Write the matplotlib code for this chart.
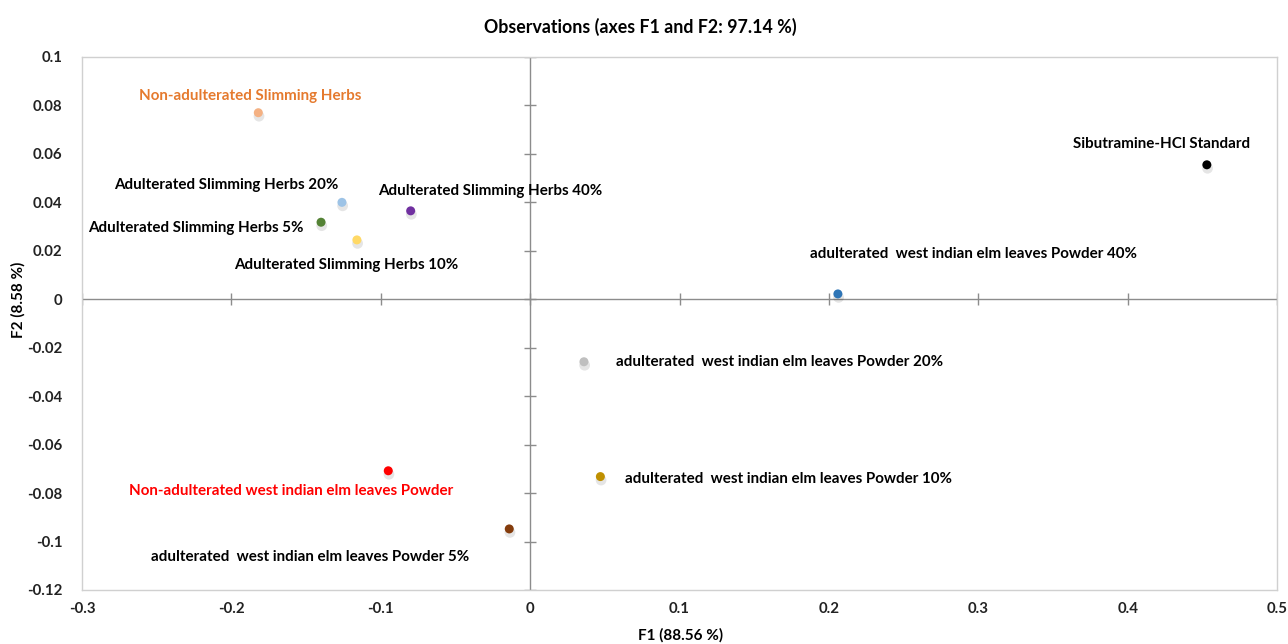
import matplotlib

matplotlib.use("Agg")
import matplotlib.pyplot as plt
import matplotlib.transforms as mtransforms

plt.rcParams["font.family"] = ["Lato", "DejaVu Sans"]

# observations on the F1/F2 plane
labels = [
  "Non-adulterated Slimming Herbs",
  "Sibutramine-HCl Standard",
  "Adulterated Slimming Herbs 20%",
  "Adulterated Slimming Herbs 40%",
  "Adulterated Slimming Herbs 5%",
  "Adulterated Slimming Herbs 10%",
  "adulterated  west indian elm leaves Powder 40%",
  "adulterated  west indian elm leaves Powder 20%",
  "Non-adulterated west indian elm leaves Powder",
  "adulterated  west indian elm leaves Powder 10%",
  "adulterated  west indian elm leaves Powder 5%",
]
f1 = [-0.182, 0.453, -0.126, -0.080, -0.140, -0.116, 0.206, 0.036, -0.095, 0.047, -0.014]
f2 = [0.077, 0.0555, 0.040, 0.0365, 0.0318, 0.0245, 0.0022, -0.0258, -0.0708, -0.0732, -0.0948]

xticks = [-0.3, -0.2, -0.1, 0, 0.1, 0.2, 0.3, 0.4, 0.5]
yticks = [-0.12, -0.1, -0.08, -0.06, -0.04, -0.02, 0, 0.02, 0.04, 0.06, 0.08, 0.1]

marker_colors = ["#F4B183", "#000000", "#9DC3E6", "#7030A0", "#548235", "#FFD966",
                 "#2E75B6", "#BFBFBF", "#FF0000", "#BF9000", "#843C0C"]
text_colors = ["#E57A2E", "black", "black", "black", "black", "black",
               "black", "black", "#FF0000", "black", "black"]
# label offsets in pixels (text centre relative to point)
offsets = [(-8, 17), (-45, 21), (-116, 17), (80, 20), (-125, -6), (-11, -25),
           (136, 40), (196, 0), (-97, -20), (188, -2), (-199, -28)]


def fmt(v):
  if v == 0:
    return "0"
  return f"{v:g}"


fig = plt.figure(figsize=(12.88, 6.44), dpi=100)
ax = fig.add_axes([0.0637, 0.0839, 0.9278, 0.8276])
ax.set_xlim(-0.3, 0.5)
ax.set_ylim(-0.12, 0.1)

for s in ax.spines.values():
  s.set_color("#D0D0D0")
  s.set_linewidth(1.0)

ax.set_xticks(xticks)
ax.set_yticks(yticks)
ax.set_xticklabels([fmt(v) for v in xticks], fontweight="bold", fontsize=10.8)
ax.set_yticklabels([fmt(v) for v in yticks], fontweight="bold", fontsize=10.8)
ax.tick_params(length=0, pad=9, labelcolor="#222222")
ax.tick_params(axis="y", pad=14)

# zero axes with crossing tick marks
ax.axhline(0, color="#8C8C8C", lw=1.0, zorder=1)
ax.axvline(0, color="#8C8C8C", lw=1.0, zorder=1)
ax.plot(xticks, [0] * len(xticks), ls="none", marker="|", ms=8, mew=1.0, color="#8C8C8C", zorder=1)
ax.plot([0] * len(yticks), yticks, ls="none", marker="_", ms=8, mew=1.0, color="#8C8C8C", zorder=1)

# soft shadow under markers
shadow = ax.transData + mtransforms.ScaledTranslation(0.5 / 72, -2.5 / 72, fig.dpi_scale_trans)
ax.scatter(f1, f2, s=60, color="#000000", alpha=0.10, edgecolors="none", transform=shadow, zorder=2)
ax.scatter(f1, f2, s=42, c=marker_colors, edgecolors="none", zorder=3)

for i, lab in enumerate(labels):
  ax.annotate(lab, (f1[i], f2[i]), xytext=offsets[i], textcoords="offset pixels",
              ha="center", va="center", fontsize=10.9, fontweight="bold", color=text_colors[i])

fig.text(0.497, 0.958, "Observations (axes F1 and F2: 97.14 %)", ha="center", va="center",
         fontsize=12.8, fontweight="bold")
fig.text(0.528, 0.013, "F1 (88.56 %)", ha="center", va="center", fontsize=11, fontweight="bold")
fig.text(0.014, 0.535, "F2 (8.58 %)", ha="center", va="center", rotation=90,
         fontsize=11, fontweight="bold")

fig.savefig("out.png", dpi=100)
